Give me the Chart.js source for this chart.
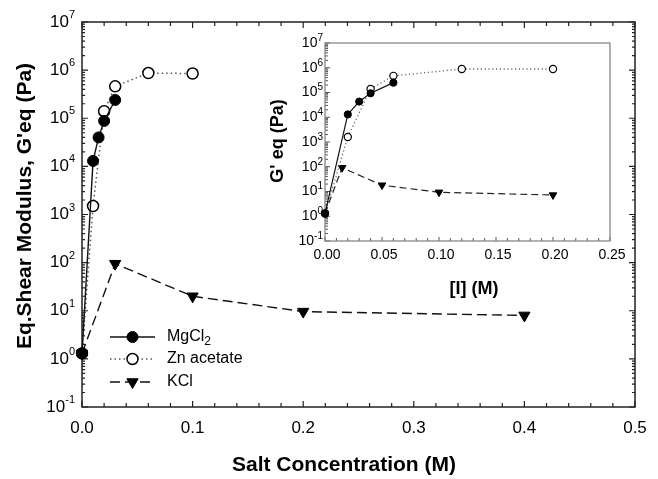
<!DOCTYPE html>
<html>
<head>
<meta charset="utf-8">
<title>Eq. shear modulus vs salt concentration</title>
<script src="https://cdn.jsdelivr.net/npm/chart.js@4.4.1/dist/chart.umd.min.js"></script>
<style>
  html, body { margin: 0; padding: 0; background: #fff; overflow: hidden; }
  #wrap { position: relative; width: 658px; height: 479px; overflow: hidden; }
  #main { position: absolute; left: 0; top: 0; }
  #inset { position: absolute; left: 260px; top: 30px; }
</style>
</head>
<body>
<div id="wrap">
  <canvas id="main" width="658" height="479"></canvas>
  <canvas id="inset" width="398" height="270"></canvas>
</div>
<script>
// main plot, x = salt concentration (M)
const mgX = [0, 0.01, 0.015, 0.02, 0.03];
const mgY = [1.3, 1.3e4, 4.0e4, 8.8e4, 2.4e5];
const znX = [0, 0.01, 0.02, 0.03, 0.06, 0.1];
const znY = [1.3, 1.5e3, 1.4e5, 4.6e5, 8.7e5, 8.5e5];
const kclX = [0, 0.03, 0.1, 0.2, 0.4];
const kclY = [1.3, 95, 20, 9.6, 8.0];

// inset, x = ionic strength [I] (M)
const inMgX = [0, 0.02, 0.03, 0.04, 0.06];
const inMgY = [1.3, 1.3e4, 4.3e4, 9.3e4, 2.5e5];
const inZnX = [0, 0.02, 0.04, 0.06, 0.12, 0.2];
const inZnY = [1.3, 1.6e3, 1.4e5, 4.7e5, 8.9e5, 8.9e5];
const inKclX = [0, 0.015, 0.05, 0.1, 0.2];
const inKclY = [1.3, 91, 18, 9.3, 7.2];

const seriesNames = ['MgCl2', 'Zn acetate', 'KCl'];
const mainXTicks = [0, 0.1, 0.2, 0.3, 0.4, 0.5];
const insetXTicks = [0, 0.05, 0.1, 0.15, 0.2, 0.25];
const decades = [-1, 0, 1, 2, 3, 4, 5, 6, 7];

const FONT = '"Liberation Sans", Arial, Helvetica, sans-serif';

function series(label, xs, ys, style) {
    return Object.assign({
        label: label,
        data: xs.map((x, i) => ({ x: x, y: ys[i] })),
        clip: false,
        fill: false,
        tension: 0
    }, style);
}

function drawMarker(ctx, ds, x, y) {
    const r = ds.pointRadius;
    ctx.save();
    ctx.setLineDash([]);
    ctx.fillStyle = ds.pointBackgroundColor;
    ctx.strokeStyle = ds.pointBorderColor;
    ctx.lineWidth = ds.pointBorderWidth;
    ctx.beginPath();
    if (ds.pointStyle === 'triangle') {
        const s = Math.sin(Math.PI / 3) * r;
        ctx.moveTo(x, y + r);
        ctx.lineTo(x - s, y - r / 2);
        ctx.lineTo(x + s, y - r / 2);
        ctx.closePath();
    } else {
        ctx.arc(x, y, r, 0, Math.PI * 2);
    }
    ctx.fill();
    ctx.stroke();
    ctx.restore();
}

// frame, inward ticks, 10^n labels, titles and legend
const decor = {
    id: 'decor',
    beforeDatasetsDraw(chart, args, o) {
        const ctx = chart.ctx;
        const { left, right, top, bottom } = chart.chartArea;
        const xs = chart.scales.x, ys = chart.scales.y;
        ctx.save();
        ctx.lineWidth = o.tickWidth;
        ctx.strokeStyle = o.tickColor;
        ctx.beginPath();
        const n = Math.round((xs.max - xs.min) / o.xStep);
        for (let i = 0; i <= n; i++) {
            const px = xs.getPixelForValue(xs.min + i * o.xStep);
            const len = i % o.xMajorEvery === 0 ? o.xMajorLen : o.xMinorLen;
            ctx.moveTo(px, bottom);
            ctx.lineTo(px, bottom - len);
            if (o.mirror) {
                ctx.moveTo(px, top);
                ctx.lineTo(px, top + len);
            }
        }
        for (let k = decades[0]; k <= decades[decades.length - 1]; k++) {
            for (let m = 1; m <= 9; m++) {
                if (k === decades[decades.length - 1] && m > 1) break;
                const py = ys.getPixelForValue(m * Math.pow(10, k));
                const len = m === 1 ? o.yMajorLen : o.yMinorLen;
                ctx.moveTo(left, py);
                ctx.lineTo(left + len, py);
                if (o.mirror) {
                    ctx.moveTo(right, py);
                    ctx.lineTo(right - len, py);
                }
            }
        }
        ctx.stroke();
        ctx.lineWidth = o.frameWidth;
        ctx.strokeStyle = o.frameColor;
        ctx.strokeRect(left, top, right - left, bottom - top);
        ctx.restore();
    },
    afterDraw(chart, args, o) {
        const ctx = chart.ctx;
        const ys = chart.scales.y;
        ctx.save();
        ctx.fillStyle = '#000';
        ctx.textBaseline = 'middle';
        decades.forEach(k => {
            const py = ys.getPixelForValue(Math.pow(10, k));
            const sup = String(k);
            ctx.font = o.supFont;
            const sw = ctx.measureText(sup).width;
            ctx.textAlign = 'left';
            ctx.fillText(sup, o.labelRight - sw, py - o.supRise);
            ctx.font = o.baseFont;
            ctx.textAlign = 'right';
            ctx.fillText('10', o.labelRight - sw, py);
        });
        o.titles.forEach(t => {
            ctx.save();
            ctx.translate(t.x, t.y);
            ctx.rotate(t.rot || 0);
            ctx.font = t.font;
            ctx.textAlign = 'center';
            ctx.fillText(t.text, 0, 0);
            ctx.restore();
        });
        if (o.legend) {
            const lg = o.legend;
            chart.data.datasets.forEach((ds, i) => {
                const y = lg.rows[i];
                ctx.save();
                ctx.strokeStyle = ds.borderColor;
                ctx.lineWidth = ds.borderWidth;
                ctx.setLineDash(ds.borderDash || []);
                ctx.beginPath();
                ctx.moveTo(lg.x0, y);
                ctx.lineTo(lg.x1, y);
                ctx.stroke();
                ctx.restore();
                drawMarker(ctx, ds, (lg.x0 + lg.x1) / 2, y);
                const m = /^(.*?)(\d+)$/.exec(ds.label);
                ctx.textAlign = 'left';
                ctx.font = lg.font;
                const main = m ? m[1] : ds.label;
                ctx.fillText(main, lg.tx, y);
                if (m) {
                    const w = ctx.measureText(main).width;
                    ctx.font = lg.subFont;
                    ctx.fillText(m[2], lg.tx + w, y + 5);
                }
            });
        }
        ctx.restore();
    }
};

function scalesFor(xMin, xMax, xTicks, digits, fontSize, pad, offset, xHeight, yWidth) {
    return {
        x: {
            type: 'linear', min: xMin, max: xMax,
            grid: { display: false, drawTicks: false },
            border: { display: false },
            afterBuildTicks: s => { s.ticks = xTicks.map(v => ({ value: v })); },
            afterFit: s => { s.height = xHeight; },
            ticks: {
                color: '#000', padding: pad, labelOffset: offset,
                autoSkip: false, maxRotation: 0,
                font: { family: FONT, size: fontSize },
                callback: v => Number(v).toFixed(digits)
            }
        },
        y: {
            type: 'logarithmic', min: 0.1, max: 1e7,
            grid: { display: false, drawTicks: false },
            border: { display: false },
            ticks: { display: false },
            afterFit: s => { s.width = yWidth; }
        }
    };
}

const mainChart = new Chart(document.getElementById('main'), {
    type: 'line',
    data: {
        datasets: [
            series(seriesNames[0], mgX, mgY, {
                borderColor: '#111', borderWidth: 1.4,
                pointStyle: 'circle', pointRadius: 5.5,
                pointBackgroundColor: '#000', pointBorderColor: '#000', pointBorderWidth: 1
            }),
            series(seriesNames[1], znX, znY, {
                borderColor: '#555', borderWidth: 1.5, borderDash: [1.5, 3],
                pointStyle: 'circle', pointRadius: 5.5,
                pointBackgroundColor: '#fff', pointBorderColor: '#000', pointBorderWidth: 1.5
            }),
            series(seriesNames[2], kclX, kclY, {
                borderColor: '#111', borderWidth: 1.4, borderDash: [10, 5],
                pointStyle: 'triangle', pointRotation: 180, pointRadius: 6.5,
                pointBackgroundColor: '#000', pointBorderColor: '#000', pointBorderWidth: 1
            })
        ]
    },
    options: {
        responsive: false,
        animation: false,
        events: [],
        layout: { padding: { left: 0, top: 22, right: 23, bottom: 0 } },
        plugins: {
            legend: { display: false },
            tooltip: { enabled: false },
            decor: {
                frameColor: '#222', frameWidth: 1.5, tickColor: '#222', tickWidth: 1.2,
                xStep: 0.02, xMajorEvery: 5, xMajorLen: 6, xMinorLen: 4,
                yMajorLen: 6, yMinorLen: 3, mirror: true,
                labelRight: 75, baseFont: '17px ' + FONT, supFont: '11px ' + FONT, supRise: 7,
                titles: [
                    { text: 'Salt Concentration (M)', x: 344, y: 465, font: 'bold 21px ' + FONT },
                    { text: "Eq.Shear Modulus, G'eq (Pa)", x: 25, y: 206, rot: -Math.PI / 2, font: 'bold 21px ' + FONT }
                ],
                legend: {
                    rows: [337, 359, 382], x0: 110, x1: 155, tx: 167,
                    font: '16px ' + FONT, subFont: '12px ' + FONT
                }
            }
        },
        scales: scalesFor(0, 0.5, mainXTicks, 1, 17, 11, 0, 72, 82)
    },
    plugins: [decor]
});

const insetChart = new Chart(document.getElementById('inset'), {
    type: 'line',
    data: {
        datasets: [
            series(seriesNames[0], inMgX, inMgY, {
                borderColor: '#111', borderWidth: 1.2,
                pointStyle: 'circle', pointRadius: 3.6,
                pointBackgroundColor: '#000', pointBorderColor: '#000', pointBorderWidth: 1
            }),
            series(seriesNames[1], inZnX, inZnY, {
                borderColor: '#666', borderWidth: 1.3, borderDash: [1.2, 2.6],
                pointStyle: 'circle', pointRadius: 3.6,
                pointBackgroundColor: '#fff', pointBorderColor: '#000', pointBorderWidth: 1.2
            }),
            series(seriesNames[2], inKclX, inKclY, {
                borderColor: '#222', borderWidth: 1.2, borderDash: [7, 4],
                pointStyle: 'triangle', pointRotation: 180, pointRadius: 4.4,
                pointBackgroundColor: '#000', pointBorderColor: '#000', pointBorderWidth: 1
            })
        ]
    },
    options: {
        responsive: false,
        animation: false,
        events: [],
        layout: { padding: { left: 0, top: 13, right: 48, bottom: 0 } },
        plugins: {
            legend: { display: false },
            tooltip: { enabled: false },
            decor: {
                frameColor: '#888', frameWidth: 1.3, tickColor: '#555', tickWidth: 1,
                xStep: 0.01, xMajorEvery: 5, xMajorLen: 4, xMinorLen: 3,
                yMajorLen: 5, yMinorLen: 3, mirror: false,
                labelRight: 63, baseFont: '14px ' + FONT, supFont: '10px ' + FONT, supRise: 5,
                titles: [
                    { text: '[I] (M)', x: 214, y: 259, font: 'bold 18px ' + FONT },
                    { text: "G' eq (Pa)", x: 18, y: 111, rot: -Math.PI / 2, font: 'bold 18px ' + FONT }
                ]
            }
        },
        scales: scalesFor(0, 0.25, insetXTicks, 2, 14, 6, 2, 59, 65)
    },
    plugins: [decor]
});
</script>
</body>
</html>
